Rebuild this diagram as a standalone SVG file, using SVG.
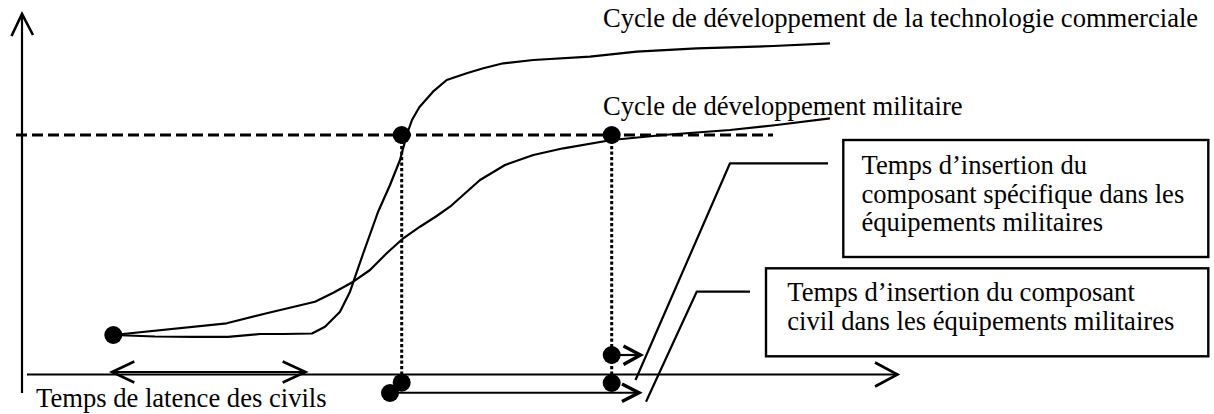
<svg xmlns="http://www.w3.org/2000/svg" width="1214" height="414" viewBox="0 0 1214 414">
<style>
text{font-family:"Liberation Serif","Times New Roman",serif;font-size:26.6px;fill:#000}
.ln{fill:none;stroke:#000;stroke-width:2.2;stroke-linejoin:round;stroke-linecap:butt}
.ax{fill:none;stroke:#000;stroke-width:1.9}
.ah{fill:none;stroke:#000;stroke-width:2.6;stroke-linejoin:miter}
.ahb{fill:none;stroke:#000;stroke-width:3.4;stroke-linejoin:miter}
.dash{fill:none;stroke:#000;stroke-width:2.8;stroke-dasharray:11 5}
.dot{fill:none;stroke:#000;stroke-width:3;stroke-dasharray:3.3 2.2}
.pt{fill:#000}
.box{fill:#fff;stroke:#000;stroke-width:2.4}
</style>
<rect width="1214" height="414" fill="#fff"/>
<g id="axes">
<line class="ln" x1="22" y1="14" x2="22" y2="393"/>
<polyline class="ah" points="11.5,36 22,14 33,35"/>
<line class="ax" x1="27" y1="374.5" x2="897" y2="374.5"/>
<polyline class="ah" points="875,362.5 897.5,374.5 875,386.5"/>
</g>
<g id="guides">
<line class="dash" x1="16" y1="135" x2="773" y2="135"/>
<line class="dot" x1="401.7" y1="135" x2="401.7" y2="382"/>
<line class="dot" x1="611.7" y1="135" x2="611.7" y2="383"/>
</g>
<g id="curve-commercial">
<polyline class="ln" points="113.3,335 155,336.5 193,336.8 228,336.8 260,334 283,334 312,333.5 325,326.7 340,311.7 350,291.7 363,254 378,212 390,185 400,160 406.7,135 412,120 419.3,107.3 433,91.7 446.7,80 466.7,73.3 483.3,68.3 503.3,63.3 533.3,60 590,56.7 636.7,51.7 696.7,48.3 773.3,46 830,43.3"/>
</g>
<g id="curve-military">
<polyline class="ln" points="113.3,335 226.7,323.3 266.7,313.3 315,301.7 333.3,292.7 353.3,281.7 370,270 386.7,253.3 403.3,238.3 420,226.7 436.7,216 450,206.7 480,180 505,165 533.3,155 563.3,148.3 611.7,140 663.3,135 730,130 776.7,125 830,118.3"/>
</g>
<g id="points">
<circle class="pt" cx="113.3" cy="335" r="9"/>
<circle class="pt" cx="401.7" cy="135" r="9"/>
<circle class="pt" cx="611.7" cy="135" r="9"/>
<circle class="pt" cx="611.7" cy="355" r="9"/>
<circle class="pt" cx="611.7" cy="383" r="9"/>
<circle class="pt" cx="401.7" cy="382.7" r="9"/>
<circle class="pt" cx="390" cy="393" r="9"/>
</g>
<g id="connectors">
<line class="ln" x1="113" y1="372" x2="305" y2="372"/>
<polyline class="ah" points="134.3,361.5 112,372 134.3,382.5"/>
<polyline class="ah" points="282.7,361.5 305.5,372 282.7,382.5"/>
<line class="ln" x1="612" y1="355" x2="640" y2="355"/>
<polyline class="ahb" points="623.5,346 640.5,355 623.5,364.5"/>
<line class="ax" x1="398" y1="392.7" x2="638" y2="392.7"/>
<polyline class="ahb" points="622,384 639,392.7 622,401.5"/>
<polyline class="ln" points="828,163.3 730,163.3 635.5,380"/>
<polyline class="ln" points="750,291.7 696.7,291.7 646,401.7"/>
</g>
<g id="label-commercial"><text x="603" y="26.7">Cycle de développement de la technologie commerciale</text></g>
<g id="label-military"><text x="603" y="115">Cycle de développement militaire</text></g>
<g id="label-latency"><text x="36" y="407.3">Temps de latence des civils</text></g>
<g id="box-specific">
<rect class="box" x="843.3" y="140" width="365" height="117"/>
<text x="861.5" y="174">Temps d’insertion du</text>
<text x="861.5" y="202.5">composant spécifique dans les</text>
<text x="861.5" y="231">équipements militaires</text>
</g>
<g id="box-civil">
<rect class="box" x="766" y="268.3" width="442.3" height="88"/>
<text x="787.3" y="301">Temps d’insertion du composant</text>
<text x="787.3" y="330">civil dans les équipements militaires</text>
</g>
</svg>
